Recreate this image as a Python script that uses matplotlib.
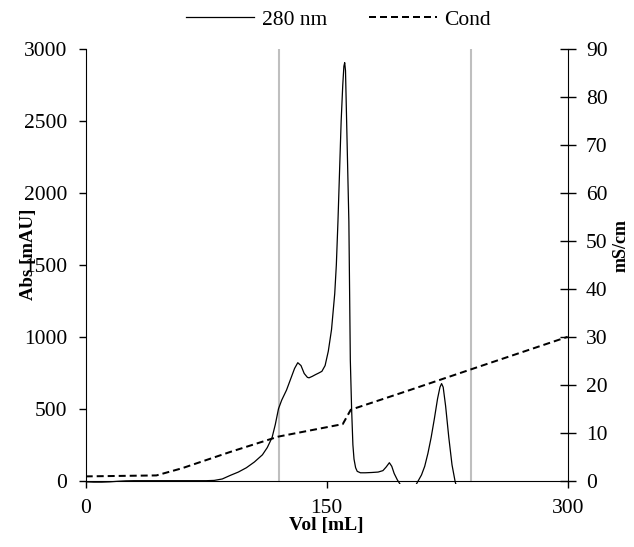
import matplotlib
matplotlib.use("Agg")
import matplotlib.pyplot as plt

plt.rcParams['font.family'] = ['Liberation Serif', 'DejaVu Serif']
plt.rcParams['font.size'] = 15.5

# 280 nm absorbance trace (mAU)
vol = [0, 5, 10, 15, 20, 25, 30, 40, 50, 60, 70, 75, 80, 85, 90, 95, 100, 105,
       110, 113, 116, 118, 120, 122, 125, 128, 130, 132, 134, 136, 138, 139,
       141, 143, 145, 147, 149, 151, 153, 155, 156, 157, 158, 159, 160, 160.7,
       161.2, 161.7, 162.3, 163, 163.8, 164.7, 165.5, 166.3, 167, 168, 169,
       171, 174, 178, 182, 185, 187, 189, 190.5, 192, 194, 196, 198, 202, 205,
       207, 209, 211, 213, 215, 217, 219, 220.5, 221.5, 222.5, 224, 226, 228,
       230, 232, 235, 240, 260, 280, 300]
abs280 = [-8, -10, -10, -8, -4, -1, 0, 0, 0, 0, 0, 0, 2, 12, 37, 60, 90, 130,
          180, 230, 300, 390, 500, 560, 630, 720, 780, 820, 800, 745, 718, 715,
          725, 737, 748, 760, 800, 900, 1050, 1300, 1500, 1800, 2150, 2500,
          2750, 2880, 2905, 2850, 2550, 2200, 1800, 840, 500, 250, 150, 90, 65,
          55, 55, 57, 60, 70, 95, 125, 100, 50, 5, -30, -80, -100, -40, 0, 40,
          100, 190, 300, 430, 570, 650, 675, 650, 520, 300, 110, -10, -80, -120,
          -150, -150, -150, -150]

# Conductivity trace (mS/cm)
cvol = [0, 44, 60, 90, 120, 140, 160, 165, 200, 245, 300]
cond = [0.9, 1.1, 2.6, 6.0, 9.2, 10.5, 11.8, 14.8, 18.7, 23.8, 30.0]

# Fraction markers (mL)
marks = [120, 240]

W, H = 634, 547
fig = plt.figure(figsize=(W / 100, H / 100), dpi=100)
ymin_l = -20
px_per = (480.7 - 49) / 3000
bottom_px = 480.7 + (-ymin_l) * px_per
ax = fig.add_axes([85.7 / W, (H - bottom_px) / H, (567.7 - 85.7) / W,
                   (bottom_px - 49) / H])

ax.set_xlim(0, 300)
ax.set_ylim(ymin_l, 3000)
for m in marks:
    ax.plot([m, m], [0, 3000], color='#bfbfbf', lw=1.5, zorder=1)
l1, = ax.plot(vol, abs280, color='black', lw=0.9, zorder=3, label='280 nm')

ax.spines['top'].set_visible(False)
ax.spines['right'].set_visible(False)
ax.spines['bottom'].set_position(('data', 0))
ax.spines['left'].set_bounds(0, 3000)
ax.set_xticks([0, 150, 300])
ax.set_yticks(range(0, 3001, 500))
ax.tick_params(axis='both', direction='out', length=5, width=1)
ax.tick_params(axis='x', pad=8.5)
ax.tick_params(axis='y', pad=8.5)
ax.set_xlabel('Vol [mL]', fontweight='bold', fontsize=14)
ax.xaxis.set_label_coords(0.5, -0.078)
ax.set_ylabel('Abs [mAU]', fontweight='bold', fontsize=13.5)
ax.yaxis.set_label_coords(-0.1, 0.528)

ax2 = ax.twinx()
ax2.set_ylim(ymin_l * 90 / 3000, 90)
l2, = ax2.plot(cvol, cond, color='black', lw=1.44, dashes=(3.5, 2),
               zorder=3, label='Cond')
for s in ['top', 'left', 'bottom']:
    ax2.spines[s].set_visible(False)
ax2.spines['right'].set_bounds(0, 90)
ax2.set_yticks(range(0, 91, 10))
ax2.tick_params(axis='y', direction='inout', length=11, width=1, pad=7.5)
ax2.set_ylabel('mS/cm', fontweight='bold', fontsize=13)
ax2.yaxis.set_label_coords(1.094, 0.547)

fig.legend(handles=[l1, l2], loc='center', bbox_to_anchor=(338.5 / W, 1 - 20 / H),
           ncol=2, frameon=False, handlelength=3.16, columnspacing=1.95,
           handletextpad=0.33, fontsize=15.5)

fig.savefig('out.png', dpi=100)
